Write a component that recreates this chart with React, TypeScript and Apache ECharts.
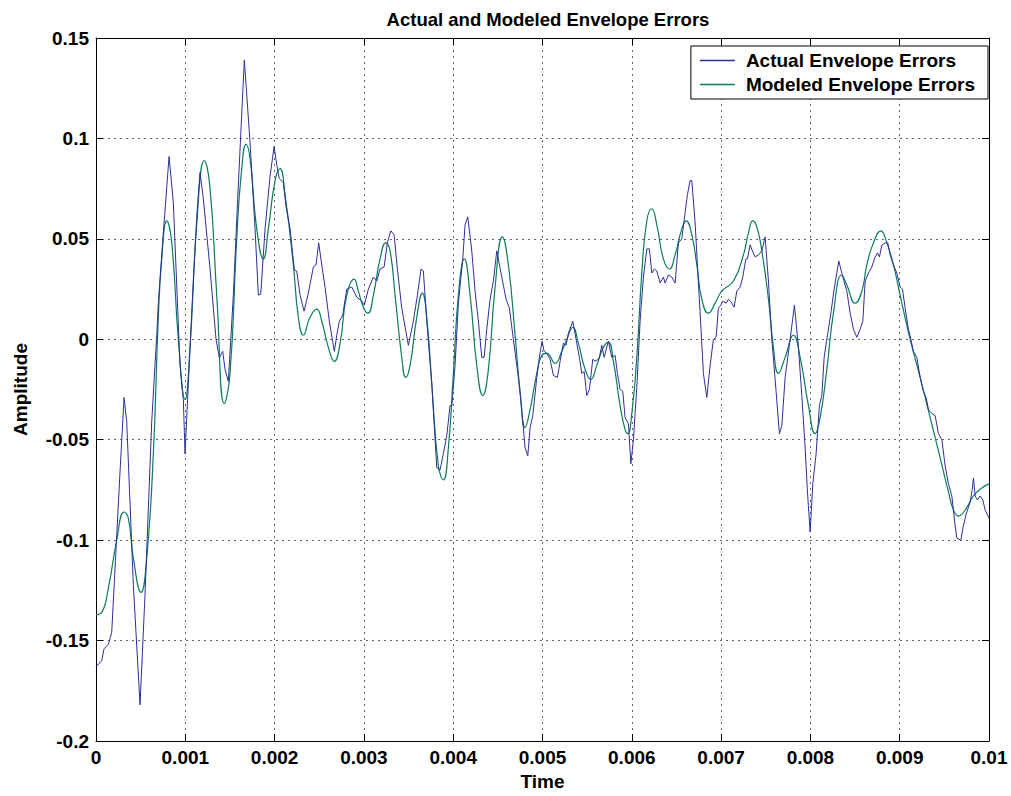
import React, { useEffect, useRef } from "react";
import * as echarts from "echarts";

const seriesNames = ["Actual Envelope Errors", "Modeled Envelope Errors"];
const chartTitle = "Actual and Modeled Envelope Errors";
const xAxisName = "Time";
const yAxisName = "Amplitude";
const xRange = { min: 0, max: 0.01, interval: 0.001 };
const yRange = { min: -0.2, max: 0.15, interval: 0.05 };

// [time (s), amplitude]
const actualErrors: [number, number][] = [
  [0, -0.163], [0.000064, -0.16], [0.00009, -0.154], [0.000138, -0.152], [0.000176, -0.146],
  [0.000269, -0.066], [0.000314, -0.029], [0.000344, -0.041], [0.000418, -0.122], [0.000493, -0.182],
  [0.000549, -0.127], [0.000624, -0.041], [0.00068, 0.002], [0.000698, 0.018], [0.000754, 0.053],
  [0.000818, 0.091], [0.000866, 0.068], [0.000941, -0.013], [0.000978, -0.03], [0.000997, -0.057],
  [0.001016, -0.039], [0.001072, 0.013], [0.001128, 0.061], [0.001165, 0.083], [0.001202, 0.07],
  [0.001277, 0.035], [0.001344, 0.0], [0.001381, -0.009], [0.001419, -0.006], [0.001445, -0.015],
  [0.001482, -0.021], [0.001538, 0.022], [0.001594, 0.077], [0.001661, 0.139], [0.001725, 0.098],
  [0.001781, 0.055], [0.001818, 0.022], [0.001845, 0.0225], [0.001893, 0.055], [0.001949, 0.081],
  [0.001994, 0.096], [0.002031, 0.085], [0.002053, 0.08], [0.002098, 0.078], [0.002128, 0.066],
  [0.002173, 0.055], [0.002221, 0.0345], [0.002248, 0.034], [0.002285, 0.022], [0.00233, 0.014],
  [0.002378, 0.023], [0.002434, 0.036], [0.002464, 0.037], [0.002494, 0.048], [0.002528, 0.037],
  [0.002565, 0.026], [0.002613, 0.009], [0.002669, -0.006], [0.002696, 0.002], [0.002725, 0.009],
  [0.002763, 0.012], [0.002808, 0.025], [0.002864, 0.026], [0.00292, 0.021], [0.002976, 0.019],
  [0.003005, 0.017], [0.00305, 0.025], [0.003106, 0.031], [0.003144, 0.029], [0.003181, 0.035],
  [0.003226, 0.036], [0.003263, 0.048], [0.003301, 0.054], [0.003338, 0.052], [0.003375, 0.035],
  [0.003424, 0.0155], [0.003498, -0.003], [0.003554, 0.009], [0.003599, 0.022], [0.00364, 0.035],
  [0.003666, 0.034], [0.003704, 0.009], [0.00376, -0.022], [0.003816, -0.064], [0.003853, -0.065],
  [0.00389, -0.057], [0.003928, -0.048], [0.003965, -0.033], [0.003984, -0.033], [0.004021, -0.013],
  [0.004058, 0.018], [0.004107, 0.04], [0.004133, 0.057], [0.004163, 0.061], [0.004208, 0.044],
  [0.004245, 0.024], [0.004282, 0.009], [0.00432, -0.009], [0.004346, -0.009], [0.004376, 0.005],
  [0.004413, 0.02], [0.00445, 0.029], [0.004488, 0.044], [0.004544, 0.031], [0.004592, 0.02],
  [0.004629, 0.0155], [0.004674, 0.0], [0.00473, -0.019], [0.004768, -0.035], [0.004805, -0.054],
  [0.004835, -0.058], [0.004861, -0.044], [0.004891, -0.038], [0.004936, -0.019], [0.004965, -0.009],
  [0.004995, -0.001], [0.005018, -0.006], [0.005048, -0.007], [0.005085, -0.01], [0.005122, -0.018],
  [0.005167, -0.019], [0.005197, -0.011], [0.005234, -0.002], [0.005264, -0.003], [0.00529, 0.003],
  [0.005339, 0.009], [0.005376, 0.0], [0.005413, -0.009], [0.00544, -0.017], [0.005466, -0.016],
  [0.005496, -0.028], [0.005525, -0.025], [0.005563, -0.01], [0.0056, -0.011], [0.005637, -0.009],
  [0.005664, -0.003], [0.00569, -0.009], [0.005738, -0.001], [0.005776, -0.009], [0.005813, -0.008],
  [0.005839, -0.017], [0.005869, -0.025], [0.005899, -0.026], [0.005925, -0.039], [0.005962, -0.042],
  [0.005989, -0.062], [0.006018, -0.05], [0.006056, -0.024], [0.006093, 0.009], [0.00613, 0.031],
  [0.006168, 0.045], [0.006197, 0.045], [0.006224, 0.033], [0.006253, 0.035], [0.00628, 0.034],
  [0.006317, 0.028], [0.006354, 0.031], [0.006373, 0.028], [0.00641, 0.032], [0.006448, 0.031],
  [0.006485, 0.028], [0.006522, 0.048], [0.00656, 0.05], [0.006597, 0.063], [0.006623, 0.072],
  [0.006653, 0.079], [0.006672, 0.079], [0.006709, 0.058], [0.006735, 0.037], [0.006765, 0.013],
  [0.006802, -0.017], [0.00684, -0.029], [0.006877, -0.013], [0.006914, 0.0], [0.006944, 0.001],
  [0.00697, 0.0155], [0.006997, 0.017], [0.007019, 0.019], [0.007056, 0.018], [0.007082, 0.02],
  [0.00712, 0.018], [0.007146, 0.016], [0.007176, 0.024], [0.007213, 0.026], [0.007243, 0.031],
  [0.007277, 0.04], [0.007295, 0.04], [0.007325, 0.047], [0.007351, 0.044], [0.007381, 0.041],
  [0.007418, 0.042], [0.007456, 0.044], [0.007493, 0.051], [0.00753, 0.029], [0.007568, 0.0],
  [0.007616, -0.026], [0.007653, -0.047], [0.00768, -0.043], [0.007717, -0.019], [0.007773, 0.0],
  [0.007821, 0.017], [0.007866, -0.004], [0.007904, -0.028], [0.007941, -0.054], [0.007967, -0.076],
  [0.007997, -0.096], [0.008027, -0.072], [0.008064, -0.057], [0.008101, -0.033], [0.008128, -0.028],
  [0.008154, -0.009], [0.008191, 0.002], [0.008229, 0.013], [0.008266, 0.025], [0.008318, 0.039],
  [0.008363, 0.031], [0.008408, 0.024], [0.008445, 0.013], [0.008482, 0.005], [0.00852, 0.001],
  [0.008557, 0.005], [0.008587, 0.009], [0.008613, 0.029], [0.00865, 0.033], [0.008688, 0.036],
  [0.008725, 0.041], [0.008751, 0.043], [0.008773, 0.041], [0.0088, 0.047], [0.008837, 0.048],
  [0.008867, 0.048], [0.008893, 0.042], [0.00893, 0.037], [0.008968, 0.033], [0.009005, 0.026],
  [0.009031, 0.025], [0.009061, 0.0155], [0.009098, 0.005], [0.009125, 0.0], [0.009154, -0.006],
  [0.009192, -0.009], [0.009229, -0.019], [0.009266, -0.026], [0.009296, -0.029], [0.009322, -0.035],
  [0.00936, -0.037], [0.009397, -0.038], [0.009434, -0.047], [0.009472, -0.05], [0.009509, -0.063],
  [0.009546, -0.072], [0.009584, -0.078], [0.009621, -0.093], [0.00964, -0.099], [0.009685, -0.1],
  [0.009707, -0.094], [0.009744, -0.087], [0.009789, -0.081], [0.009815, -0.074], [0.009826, -0.069],
  [0.009845, -0.078], [0.009871, -0.08], [0.009901, -0.078], [0.009931, -0.08], [0.009957, -0.085],
  [0.01, -0.089],
];

const modeledErrors: [number, number][] = [
  [0, -0.137], [0.000064, -0.136], [0.000138, -0.124], [0.000232, -0.1], [0.000314, -0.086],
  [0.000362, -0.089], [0.000418, -0.109], [0.000504, -0.126], [0.000568, -0.109], [0.000642, -0.057],
  [0.000698, 0.011], [0.000736, 0.04], [0.000792, 0.059], [0.000848, 0.048], [0.000922, 0.0],
  [0.000997, -0.03], [0.001053, -0.004], [0.001128, 0.057], [0.001213, 0.089], [0.001277, 0.075],
  [0.001352, 0.022], [0.001437, -0.032], [0.001501, -0.017], [0.001576, 0.05], [0.001632, 0.085],
  [0.00168, 0.097], [0.001725, 0.09], [0.0018, 0.055], [0.001874, 0.04], [0.00193, 0.055],
  [0.002005, 0.079], [0.002061, 0.085], [0.002117, 0.072], [0.00221, 0.037], [0.002266, 0.011],
  [0.002322, 0.002], [0.002397, 0.011], [0.002472, 0.015], [0.002528, 0.009], [0.002602, -0.004],
  [0.002669, -0.011], [0.002733, -0.002], [0.002808, 0.022], [0.00289, 0.03], [0.002938, 0.024],
  [0.002994, 0.016], [0.003046, 0.013], [0.003106, 0.022], [0.003181, 0.04], [0.003245, 0.048],
  [0.003293, 0.044], [0.003349, 0.022], [0.003424, -0.009], [0.003469, -0.019], [0.003517, -0.013],
  [0.003592, 0.011], [0.003655, 0.023], [0.003704, 0.011], [0.00376, -0.022], [0.003834, -0.063],
  [0.00389, -0.07], [0.003946, -0.054], [0.004002, -0.017], [0.004058, 0.022], [0.004125, 0.04],
  [0.004189, 0.022], [0.004264, -0.013], [0.004331, -0.028], [0.004394, -0.015], [0.004469, 0.026],
  [0.004551, 0.051], [0.004618, 0.037], [0.004693, 0.002], [0.004749, -0.026], [0.004805, -0.044],
  [0.004861, -0.035], [0.004936, -0.017], [0.004992, -0.008], [0.005048, -0.007], [0.005141, -0.012],
  [0.005216, -0.006], [0.005272, 0.0], [0.005339, 0.006], [0.005402, -0.002], [0.005477, -0.015],
  [0.005541, -0.02], [0.005608, -0.013], [0.005682, -0.004], [0.005738, -0.0015], [0.005794, -0.011],
  [0.005869, -0.033], [0.005925, -0.045], [0.005955, -0.047], [0.006, -0.037], [0.006056, -0.009],
  [0.006112, 0.033], [0.006168, 0.059], [0.006224, 0.065], [0.00628, 0.057], [0.006354, 0.04],
  [0.006421, 0.035], [0.006485, 0.042], [0.00656, 0.055], [0.006608, 0.059], [0.006672, 0.052],
  [0.006728, 0.037], [0.006784, 0.02], [0.006858, 0.013], [0.006933, 0.018], [0.007008, 0.024],
  [0.007138, 0.029], [0.00725, 0.042], [0.007306, 0.053], [0.007355, 0.059], [0.0074, 0.056],
  [0.007456, 0.044], [0.00753, 0.02], [0.007586, -0.004], [0.007642, -0.017], [0.007717, -0.009],
  [0.00781, 0.002], [0.007885, -0.009], [0.007978, -0.033], [0.008053, -0.047], [0.008109, -0.039],
  [0.008184, -0.015], [0.008258, 0.013], [0.008352, 0.032], [0.008408, 0.027], [0.008501, 0.018],
  [0.008576, 0.024], [0.008632, 0.037], [0.008706, 0.048], [0.008789, 0.054], [0.008856, 0.048],
  [0.00893, 0.037], [0.009024, 0.018], [0.009117, 0.0], [0.009229, -0.019], [0.009341, -0.039],
  [0.009453, -0.059], [0.009546, -0.076], [0.009602, -0.085], [0.009658, -0.088], [0.009733, -0.085],
  [0.009826, -0.078], [0.009919, -0.074], [0.01, -0.072],
];

const FONT = "'Liberation Sans', Arial, Helvetica, sans-serif";
const ACTUAL_COLOR = "#2f2f9c";
const MODELED_COLOR = "#0a7d5a";
const fmt = (v: number) => String(Math.round(v * 1000) / 1000);

export default function App() {
  const ref = useRef<HTMLDivElement>(null);
  useEffect(() => {
    if (!ref.current) return;
    const chart = echarts.init(ref.current, undefined, { renderer: "svg" });
    const tick = { show: true, inside: true, length: 7, lineStyle: { color: "#000", width: 1 } };
    const line = { show: true, onZero: false, lineStyle: { color: "#000", width: 1 } };
    const label = { fontSize: 19, fontWeight: "bold", color: "#000", fontFamily: FONT };
    const split = { show: true, lineStyle: { color: "#666", width: 1, type: [2, 4] } };
    chart.setOption({
      animation: false,
      backgroundColor: "#fff",
      title: {
        text: chartTitle,
        left: 543,
        top: 5,
        textAlign: "center",
        textStyle: { fontSize: 18.5, fontWeight: "bold", color: "#000", fontFamily: FONT },
      },
      legend: {
        data: [
          { name: seriesNames[0], icon: "rect", itemStyle: { color: ACTUAL_COLOR } },
          { name: seriesNames[1], icon: "rect", itemStyle: { color: MODELED_COLOR } },
        ],
        orient: "vertical",
        right: 23,
        top: 46,
        backgroundColor: "#fff",
        borderColor: "#000",
        borderWidth: 1,
        borderRadius: 0,
        padding: [5, 13, 5, 9],
        itemGap: 5,
        itemWidth: 35,
        itemHeight: 1.3,
        textStyle: { fontSize: 19, fontWeight: "bold", color: "#000", fontFamily: FONT, padding: [0, 0, 0, 6] },
      },
      grid: { left: 96, right: 22, top: 38, bottom: 55, containLabel: false },
      xAxis: [
        {
          type: "value", ...xRange, position: "bottom",
          name: xAxisName, nameLocation: "middle", nameGap: 30,
          nameTextStyle: label,
          axisLine: line, axisTick: tick,
          axisLabel: { ...label, margin: 7, formatter: fmt },
          splitLine: split,
        },
        {
          type: "value", ...xRange, position: "top",
          axisLine: line, axisTick: tick, axisLabel: { show: false }, splitLine: { show: false },
        },
      ],
      yAxis: [
        {
          type: "value", ...yRange, position: "left",
          name: yAxisName, nameLocation: "middle", nameGap: 66,
          nameTextStyle: label,
          axisLine: line, axisTick: tick,
          axisLabel: { ...label, margin: 7, formatter: fmt },
          splitLine: split,
        },
        {
          type: "value", ...yRange, position: "right",
          axisLine: line, axisTick: tick, axisLabel: { show: false }, splitLine: { show: false },
        },
      ],
      series: [
        {
          name: seriesNames[0], type: "line", data: actualErrors,
          xAxisIndex: 0, yAxisIndex: 0, symbol: "none", showSymbol: false,
          lineStyle: { color: ACTUAL_COLOR, width: 1 }, itemStyle: { color: ACTUAL_COLOR }, z: 3,
        },
        {
          name: seriesNames[1], type: "line", data: modeledErrors,
          xAxisIndex: 0, yAxisIndex: 0, symbol: "none", showSymbol: false, smooth: 0.5,
          lineStyle: { color: MODELED_COLOR, width: 1.2 }, itemStyle: { color: MODELED_COLOR }, z: 2,
        },
      ],
    });
    return () => chart.dispose();
  }, []);
  return (
    <div
      ref={ref}
      style={{ position: "absolute", left: 0, top: 0, width: 1011, height: 796, background: "#fff" }}
    />
  );
}
